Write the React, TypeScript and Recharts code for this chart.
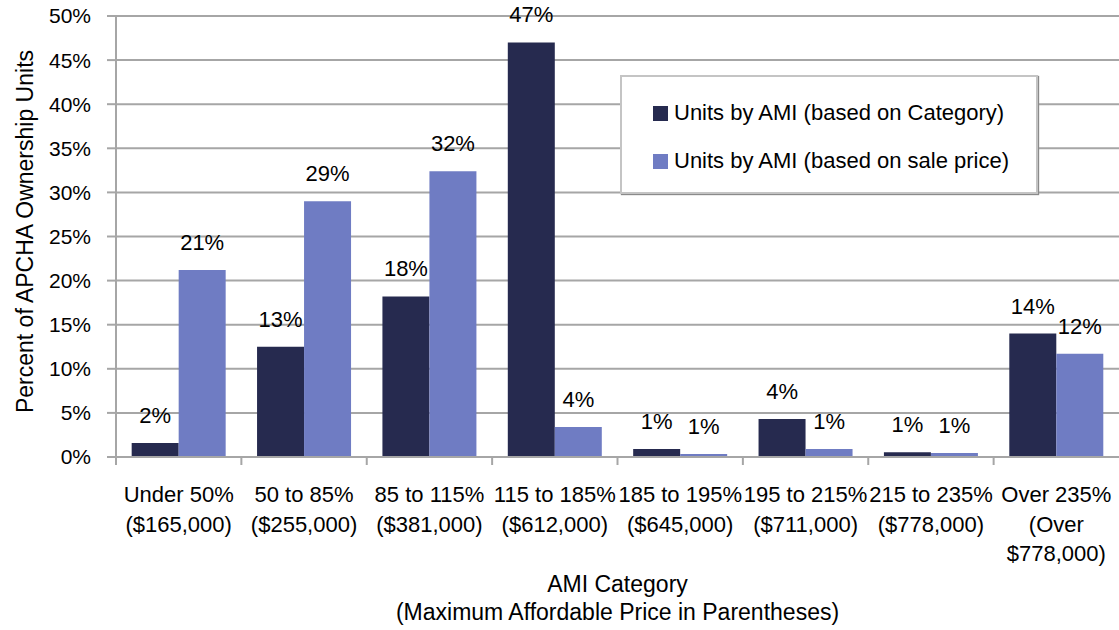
import { BarChart, Bar, XAxis, YAxis, CartesianGrid, Legend, LabelList } from 'recharts';

const categories = ['Under 50%', '50 to 85%', '85 to 115%', '115 to 185%', '185 to 195%', '195 to 215%', '215 to 235%', 'Over 235%'];
const maxPrices = ['($165,000)', '($255,000)', '($381,000)', '($612,000)', '($645,000)', '($711,000)', '($778,000)', '(Over\n$778,000)'];

// bar heights (percent of units)
const byCategory = [1.6, 12.5, 18.2, 47.0, 0.9, 4.3, 0.55, 14.0];
const bySalePrice = [21.2, 29.0, 32.4, 3.4, 0.35, 0.9, 0.45, 11.7];

// the rounded values printed above the bars
const byCategoryLabels = [2, 13, 18, 47, 1, 4, 1, 14];
const bySalePriceLabels = [21, 29, 32, 4, 1, 1, 1, 12];

const yTicks = [0, 5, 10, 15, 20, 25, 30, 35, 40, 45, 50];

const rows = categories.map((name, i) => ({
    name,
    price: maxPrices[i],
    category: byCategory[i],
    sale: bySalePrice[i],
    categoryLabel: byCategoryLabels[i] + '%',
    saleLabel: bySalePriceLabels[i] + '%',
}));

const FONT = "'Liberation Sans', Arial, sans-serif";
const GRID = '#a6a6a6';
const DARK = '#262a4f';
const LIGHT = '#6f7cc3';

const W = 1119;
const H = 630;
const LEFT = 116;
const bandWidth = (W - LEFT) / categories.length;

function CategoryTick(props: any) {
    const { x, y, payload, index } = props;
    const lines = [payload.value, ...rows[index].price.split('\n')];
    return (
        <g>
            <line x1={x - bandWidth / 2} x2={x - bandWidth / 2} y1={y} y2={y + 8} stroke={GRID} strokeWidth={2} />
            {lines.map((t: string, i: number) => (
                <text key={i} x={x} y={y + 45 + i * 29.5} textAnchor="middle" fontSize={22} fontFamily={FONT} fill="#000">
                    {t}
                </text>
            ))}
        </g>
    );
}

function XTitle(props: any) {
    const { viewBox } = props;
    const cx = viewBox.x + viewBox.width / 2;
    return (
        <g>
            <text x={cx} y={viewBox.y + 135} textAnchor="middle" fontSize={23} fontFamily={FONT} fill="#000">AMI Category</text>
            <text x={cx} y={viewBox.y + 163} textAnchor="middle" fontSize={23} fontFamily={FONT} fill="#000">(Maximum Affordable Price in Parentheses)</text>
        </g>
    );
}

function YTitle(props: any) {
    const { viewBox } = props;
    const cy = viewBox.y + viewBox.height / 2 - 5;
    return (
        <text x={33} y={cy} transform={`rotate(-90 33 ${cy})`} textAnchor="middle" fontSize={23} fontFamily={FONT} fill="#000">
            Percent of APCHA Ownership Units
        </text>
    );
}

function LegendBox(props: any) {
    const { payload } = props;
    return (
        <div style={{
            width: 414, height: 103, border: '2px solid #c4c4c4', boxShadow: '1px 1px 1px #8a8a8a',
            background: '#fff', boxSizing: 'content-box', paddingTop: 12,
        }}>
            {(payload || []).map((p: any) => (
                <div key={p.value} style={{ display: 'flex', alignItems: 'center', height: 48, paddingLeft: 31, whiteSpace: 'nowrap' }}>
                    <span style={{ width: 15, height: 15, background: p.color, display: 'inline-block', marginRight: 6 }} />
                    <span style={{ fontFamily: FONT, fontSize: 22, color: '#000' }}>{p.value}</span>
                </div>
            ))}
        </div>
    );
}

export default function App() {
    return (
        <div style={{ position: 'absolute', left: 0, top: 0, background: '#fff' }}>
            <BarChart
                width={W}
                height={H}
                data={rows}
                margin={{ top: 16, right: 0, bottom: 0, left: 0 }}
                barCategoryGap="12.5%"
                barGap={0}
            >
                <CartesianGrid vertical={false} stroke={GRID} strokeWidth={2} />
                <XAxis
                    dataKey="name"
                    height={173}
                    interval={0}
                    tickLine={false}
                    tickSize={0}
                    tickMargin={0}
                    axisLine={{ stroke: GRID, strokeWidth: 2 }}
                    tick={<CategoryTick />}
                    label={<XTitle />}
                />
                <YAxis
                    width={LEFT}
                    domain={[0, 50]}
                    ticks={yTicks}
                    interval={0}
                    tickFormatter={(v) => `${v}%`}
                    tickSize={9}
                    tickMargin={16}
                    tickLine={{ stroke: GRID, strokeWidth: 2 }}
                    axisLine={{ stroke: GRID, strokeWidth: 2 }}
                    tick={{ fontSize: 21, fontFamily: FONT, fill: '#000' }}
                    label={<YTitle />}
                />
                <Legend
                    layout="horizontal"
                    verticalAlign="middle"
                    align="center"
                    wrapperStyle={{ left: 620, top: 75, width: 418, height: 117 }}
                    content={<LegendBox />}
                />
                <Bar dataKey="category" name="Units by AMI (based on Category)" fill={DARK} isAnimationActive={false}>
                    <LabelList dataKey="categoryLabel" position="top" offset={20} fontSize={22} fontFamily={FONT} fill="#000" />
                </Bar>
                <Bar dataKey="sale" name="Units by AMI (based on sale price)" fill={LIGHT} isAnimationActive={false}>
                    <LabelList dataKey="saleLabel" position="top" offset={20} fontSize={22} fontFamily={FONT} fill="#000" />
                </Bar>
            </BarChart>
        </div>
    );
}
